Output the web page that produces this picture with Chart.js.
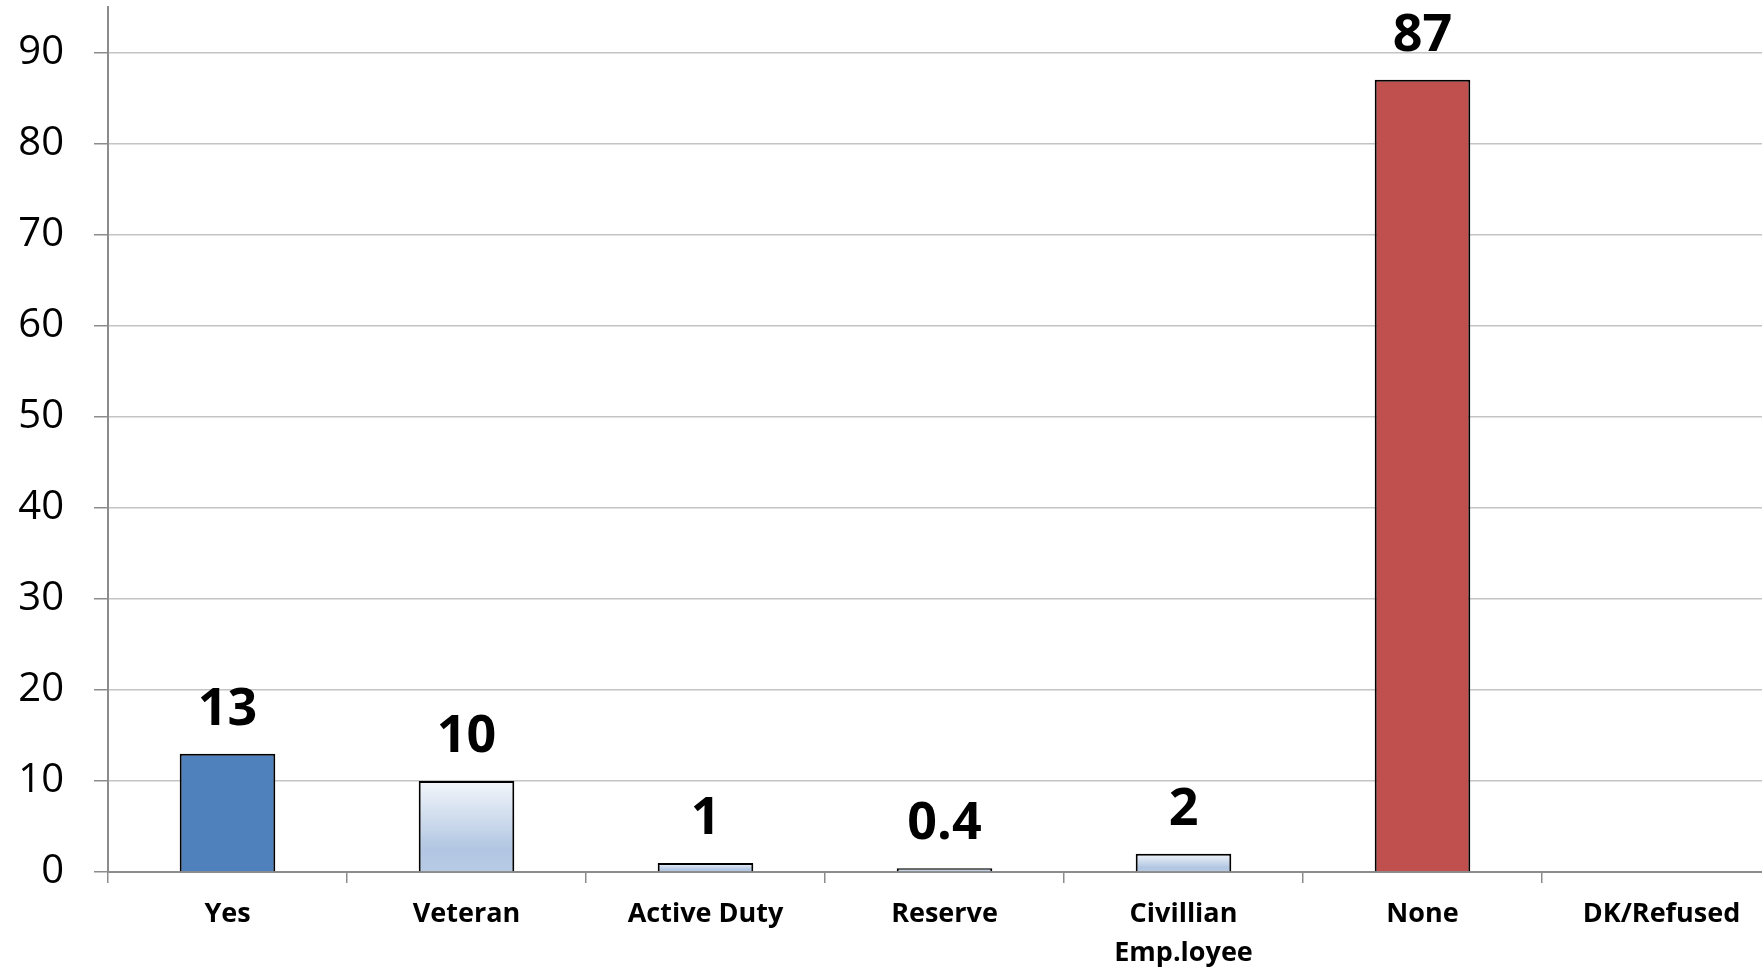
<!DOCTYPE html>
<html>
<head>
<meta charset="utf-8">
<script src="https://cdn.jsdelivr.net/npm/chart.js@4/dist/chart.umd.min.js"></script>
<style>
    html, body { margin: 0; padding: 0; background: #fff; overflow: hidden; }
    #wrap { width: 1781px; height: 970px; }
</style>
</head>
<body>
<div id="wrap"><canvas id="chart" width="1781" height="970"></canvas></div>
<script>
// Data
const categories = ['Yes', 'Veteran', 'Active Duty', 'Reserve', ['Civillian', 'Emp.loyee'], 'None', 'DK/Refused'];
const values = [13, 10, 1, 0.4, 2, 87, null];
const valueLabels = ['13', '10', '1', '0.4', '2', '87', ''];
const yMax = 95;
const yStep = 10;

// Fill style per bar
const fills = ['blue', 'gradient', 'gradient', 'gradient', 'gradient', 'red', 'gradient'];

function barFill(ctx) {
    const chart = ctx.chart;
    const kind = fills[ctx.dataIndex];
    if (kind === 'blue') return '#4f81bd';
    if (kind === 'red') return '#c0504d';
    if (!chart.chartArea || ctx.raw == null) return '#c6d5ea';
    const y = chart.scales.y;
    const top = y.getPixelForValue(ctx.raw);
    const bottom = y.getPixelForValue(0);
    const g = chart.ctx.createLinearGradient(0, top, 0, bottom);
    g.addColorStop(0, '#f3f6fb');
    g.addColorStop(0.75, '#b1c6e2');
    g.addColorStop(1, '#b8cbe5');
    return g;
}

// Draw the value above each bar
const valueLabelPlugin = {
    id: 'valueLabels',
    afterDatasetsDraw(chart) {
        const c = chart.ctx;
        const meta = chart.getDatasetMeta(0);
        c.save();
        c.font = 'bold 52px "Open Sans"';
        c.fillStyle = '#000';
        c.textAlign = 'center';
        c.textBaseline = 'alphabetic';
        meta.data.forEach((bar, i) => {
            if (values[i] == null) return;
            c.fillText(valueLabels[i], bar.x, bar.y - 29);
        });
        c.restore();
    }
};

new Chart(document.getElementById('chart'), {
    type: 'bar',
    data: {
        labels: categories,
        datasets: [{
            data: values,
            backgroundColor: barFill,
            borderColor: '#000',
            borderWidth: 2,
            barPercentage: 0.4,
            categoryPercentage: 1
        }]
    },
    options: {
        responsive: false,
        animation: false,
        devicePixelRatio: 1,
        layout: { padding: { top: 7, right: 0, bottom: 0, left: 0 }, autoPadding: false },
        plugins: {
            legend: { display: false },
            tooltip: { enabled: false }
        },
        scales: {
            x: {
                grid: {
                    drawOnChartArea: false,
                    drawTicks: true,
                    tickLength: 11,
                    tickColor: '#8c8c8c',
                    lineWidth: 1.5,
                    offset: true
                },
                border: { color: '#8c8c8c', width: 2 },
                ticks: {
                    color: '#000',
                    font: { family: 'Open Sans', size: 27, weight: 'bold', lineHeight: 1.44 },
                    padding: 12,
                    maxRotation: 0,
                    autoSkip: false
                },
                afterFit(scale) {
                    scale.height = 98;
                    scale.paddingLeft = 0;
                    scale.paddingRight = 0;
                }
            },
            y: {
                min: 0,
                max: yMax,
                grid: {
                    color: '#c4c4c4',
                    lineWidth: 1.5,
                    tickLength: 14,
                    tickColor: '#8c8c8c'
                },
                border: { color: '#8c8c8c', width: 2 },
                ticks: {
                    stepSize: yStep,
                    color: '#000',
                    font: { family: 'Open Sans', size: 40 },
                    padding: 30
                },
                afterBuildTicks(scale) {
                    scale.ticks = scale.ticks.filter(t => t.value % yStep === 0);
                },
                afterFit(scale) {
                    scale.width = 108;
                    scale.paddingTop = 0;
                    scale.paddingBottom = 0;
                }
            }
        }
    },
    plugins: [valueLabelPlugin]
});
</script>
</body>
</html>
